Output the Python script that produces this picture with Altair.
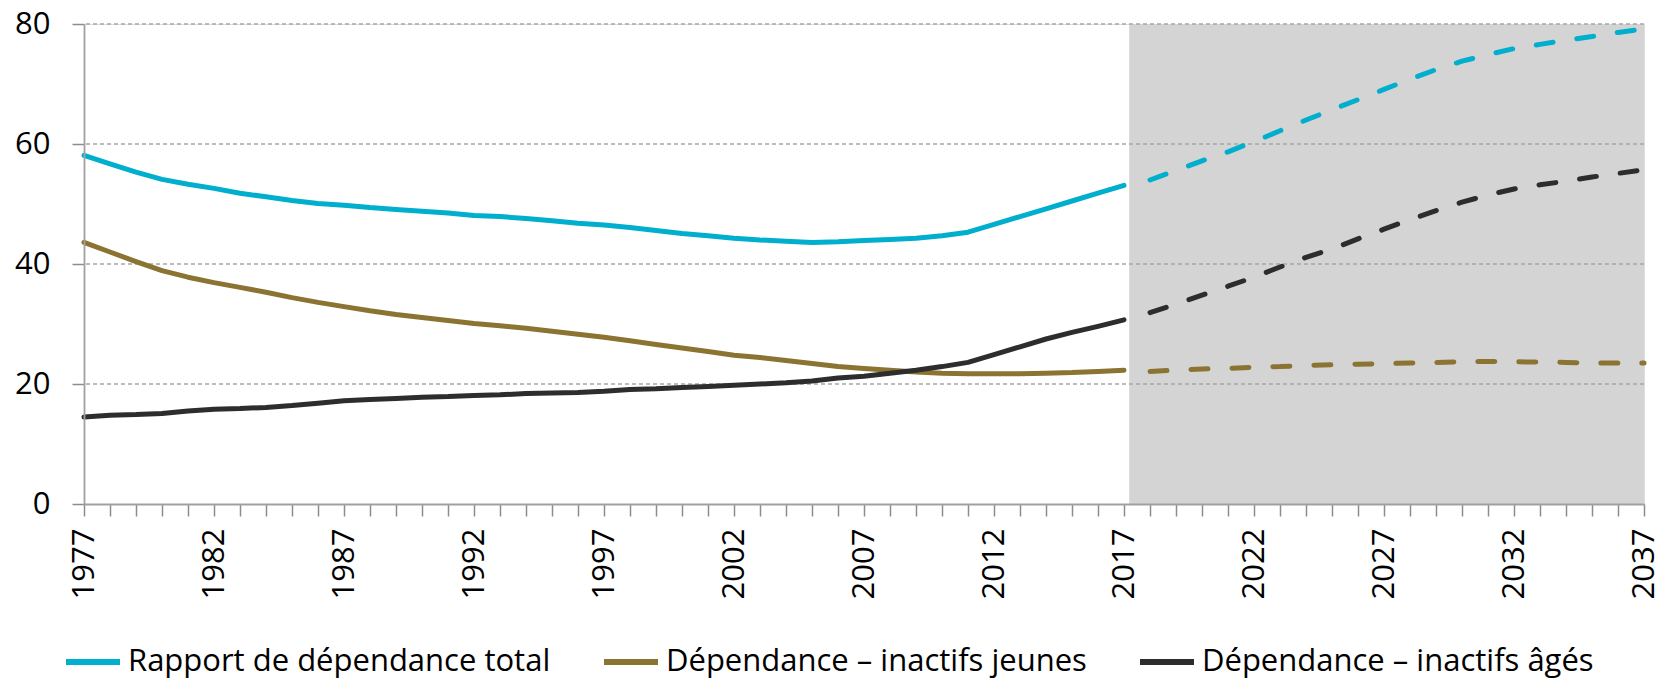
import altair as alt
import pandas as pd

S_TOTAL = "Rapport de dépendance total"
S_YOUNG = "Dépendance – inactifs jeunes"
S_OLD = "Dépendance – inactifs âgés"
series_names = [S_TOTAL, S_YOUNG, S_OLD]
series_colors = ["#00AFCD", "#8B7431", "#2D2D2D"]

years_hist = list(range(1977, 2018))
total_hist = [58.1, 56.7, 55.3, 54.1, 53.3, 52.6, 51.8, 51.2, 50.6, 50.1,
              49.8, 49.4, 49.1, 48.8, 48.5, 48.1, 47.9, 47.6, 47.2, 46.8,
              46.5, 46.1, 45.6, 45.1, 44.7, 44.3, 44.0, 43.8, 43.6, 43.7,
              43.9, 44.1, 44.3, 44.7, 45.3, 46.6, 47.9, 49.2, 50.5, 51.8,
              53.1]
young_hist = [43.6, 42.0, 40.4, 38.9, 37.8, 36.9, 36.1, 35.3, 34.4, 33.6,
              32.9, 32.2, 31.6, 31.1, 30.6, 30.1, 29.7, 29.3, 28.8, 28.3,
              27.8, 27.2, 26.6, 26.0, 25.4, 24.8, 24.4, 23.9, 23.4, 22.9,
              22.6, 22.3, 22.0, 21.8, 21.7, 21.7, 21.7, 21.8, 21.9, 22.1,
              22.3]
old_hist = [14.5, 14.8, 14.9, 15.1, 15.5, 15.8, 15.9, 16.1, 16.4, 16.8,
            17.2, 17.4, 17.6, 17.8, 17.9, 18.1, 18.2, 18.4, 18.5, 18.6,
            18.8, 19.1, 19.2, 19.4, 19.6, 19.8, 20.0, 20.2, 20.5, 21.0,
            21.3, 21.8, 22.3, 22.9, 23.6, 24.9, 26.2, 27.5, 28.6, 29.6,
            30.7]

years_proj = list(range(2018, 2038))
total_proj = [54.0, 55.6, 57.2, 58.7, 60.4, 62.2, 64.0, 65.7, 67.4, 69.1,
              70.8, 72.4, 73.8, 74.9, 75.9, 76.6, 77.3, 77.9, 78.6, 79.2]
young_proj = [22.1, 22.3, 22.5, 22.6, 22.8, 22.9, 23.1, 23.2, 23.3, 23.4,
              23.5, 23.6, 23.7, 23.75, 23.7, 23.65, 23.6, 23.5, 23.5, 23.5]
old_proj = [31.9, 33.3, 34.8, 36.3, 37.8, 39.5, 41.1, 42.5, 44.2, 45.8,
            47.4, 48.9, 50.3, 51.5, 52.5, 53.2, 53.8, 54.5, 55.1, 55.7]

shade_x = [2017.2]
shade_x2 = [2037]
shade_y = [0]
shade_y2 = [80]
grid_values = [20, 40, 60, 80]
y_ticks = [0, 20, 40, 60, 80]
x_ticks = list(range(1977, 2038))

rows = []
for name, vals in [(S_TOTAL, total_hist), (S_YOUNG, young_hist), (S_OLD, old_hist)]:
    for yr, v in zip(years_hist, vals):
        rows.append({"year": yr, "value": v, "series": name, "phase": "hist"})
for name, vals in [(S_TOTAL, total_proj), (S_YOUNG, young_proj), (S_OLD, old_proj)]:
    for yr, v in zip(years_proj, vals):
        rows.append({"year": yr, "value": v, "series": name, "phase": "proj"})
df = pd.DataFrame(rows)

shade_df = pd.DataFrame({"x": shade_x, "x2": shade_x2, "y": shade_y, "y2": shade_y2})
grid_df = pd.DataFrame({"v": grid_values})

FONT = "Open Sans"
FS = 31
xscale = alt.Scale(domain=[1977, 2037], nice=False, zero=False)
yscale = alt.Scale(domain=[0, 80], nice=False)

x_axis = alt.Axis(
    values=x_ticks, tickCount=len(x_ticks), format="d",
    labelExpr="(datum.value - 1977) % 5 == 0 ? datum.label : ''",
    labelAngle=270, labelFontSize=FS, labelFont=FONT, labelColor="#000000",
    labelPadding=12, labelOverlap=False, labelFlush=False,
    tickSize=12, tickColor="#8C8C8C", tickWidth=1.5,
    domainColor="#A0A0A0", domainWidth=1.8, grid=False, title=None, zindex=1,
)
y_axis = alt.Axis(
    values=y_ticks, tickCount=len(y_ticks), labelFontSize=FS, labelFont=FONT,
    labelColor="#000000",
    labelPadding=22, tickSize=12, tickColor="#8C8C8C", tickWidth=1.5,
    domainColor="#A0A0A0", domainWidth=1.8, grid=False, title=None, zindex=1,
)

shade = alt.Chart(shade_df).mark_rect(color="#D4D4D4").encode(
    x=alt.X("x:Q", scale=xscale, axis=x_axis),
    x2="x2:Q",
    y=alt.Y("y:Q", scale=yscale, axis=y_axis),
    y2="y2:Q",
)

grid = alt.Chart(grid_df).mark_rule(color="#A6A6A6", strokeWidth=1.4, strokeDash=[4, 3]).encode(
    y=alt.Y("v:Q", scale=yscale)
)

color_enc = alt.Color(
    "series:N",
    scale=alt.Scale(domain=series_names, range=series_colors),
    sort=series_names,
    legend=alt.Legend(
        title=None, orient="none", direction="horizontal",
        legendX=-21, legendY=608, padding=0,
        symbolType="stroke", symbolSize=2916, symbolStrokeWidth=6,
        labelFontSize=FS, labelFont=FONT, labelColor="#000000",
        labelOffset=5, columnPadding=41, labelLimit=700,
    ),
)

solid = alt.Chart(df).transform_filter(alt.datum.phase == "hist").mark_line(
    strokeWidth=5, strokeCap="round", strokeJoin="round"
).encode(
    x=alt.X("year:Q", scale=xscale),
    y=alt.Y("value:Q", scale=yscale),
    color=color_enc,
)

dashed = alt.Chart(df).transform_filter(alt.datum.phase == "proj").mark_line(
    strokeWidth=5, strokeCap="round", strokeJoin="round", strokeDash=[17, 24]
).encode(
    x=alt.X("year:Q", scale=xscale),
    y=alt.Y("value:Q", scale=yscale),
    color=alt.Color("series:N", scale=alt.Scale(domain=series_names, range=series_colors), legend=None),
)

chart = alt.layer(shade, grid, solid, dashed).properties(
    width=1560, height=480,
    autosize=alt.AutoSizeParams(type="none"),
    padding={"left": 76, "top": 16, "right": 19, "bottom": 177},
).configure_view(stroke=None).configure(background="#FFFFFF")

chart.save("out.html", embed_options={"renderer": "svg", "actions": False})
